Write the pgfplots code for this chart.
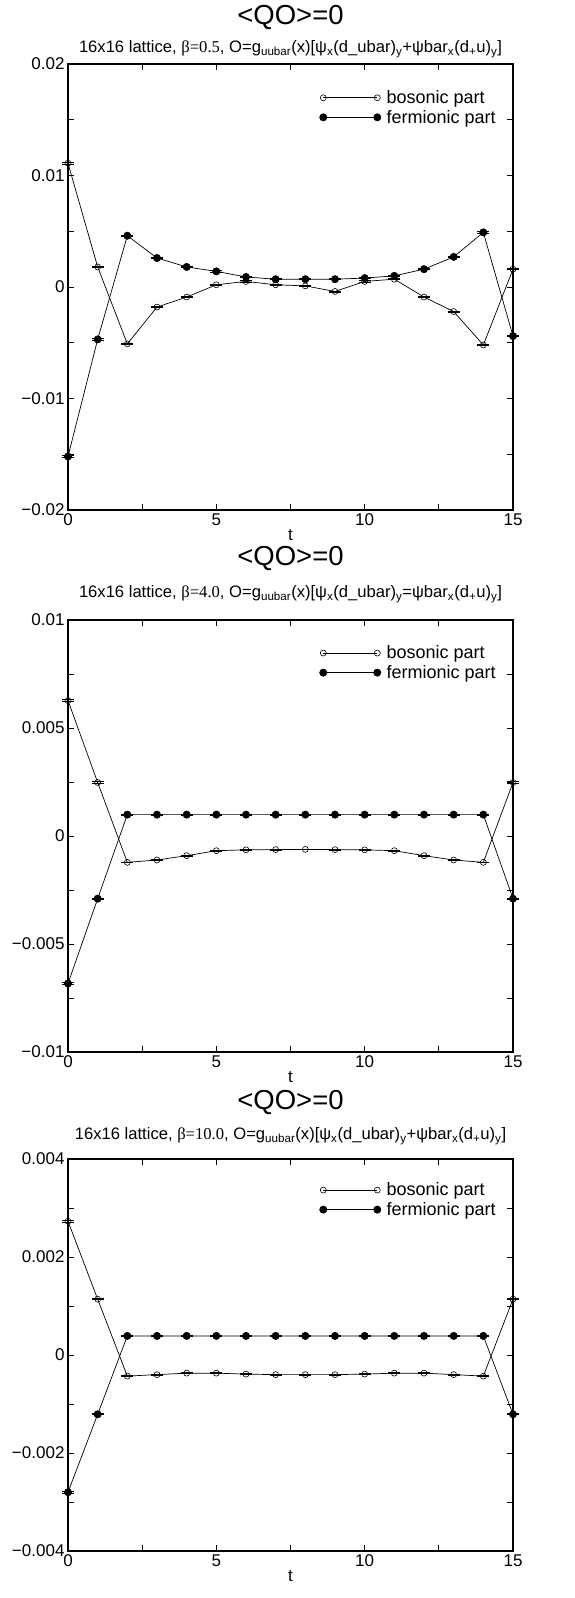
\documentclass[border=0pt]{standalone}
\usepackage{pgfplots}
\pgfplotsset{compat=1.18}
\usepackage{pgfplotstable}
\usepackage{fontspec}
\setmainfont{Liberation Sans}
\newfontfamily\serif{Liberation Serif}

\pgfplotstableread{
t b f e
0 0.0111 -0.0152 0.00012
1 0.0018 -0.0047 0.00006
2 -0.0051 0.0046 0.00006
3 -0.0018 0.0026 0.00005
4 -0.0009 0.0018 0.00005
5 0.0002 0.0014 0.00005
6 0.0005 0.0009 0.00005
7 0.0002 0.0007 0.00005
8 0.0001 0.0007 0.00005
9 -0.0004 0.0007 0.00005
10 0.0005 0.0008 0.00005
11 0.0007 0.0010 0.00005
12 -0.0009 0.0016 0.00005
13 -0.0022 0.0027 0.00005
14 -0.0052 0.0049 0.00006
15 0.0016 -0.0044 0.00006
}\dataA

\pgfplotstableread{
t b f e
0 0.00627 -0.00683 0.00004
1 0.00248 -0.00290 0.00003
2 -0.00122 0.00099 0.00002
3 -0.00111 0.00099 0.00002
4 -0.00091 0.00099 0.00002
5 -0.00068 0.00099 0.00002
6 -0.00064 0.00099 0.00002
7 -0.00063 0.00099 0.00002
8 -0.00062 0.00099 0.00002
9 -0.00063 0.00099 0.00002
10 -0.00064 0.00099 0.00002
11 -0.00068 0.00099 0.00002
12 -0.00091 0.00099 0.00002
13 -0.00111 0.00099 0.00002
14 -0.00122 0.00099 0.00002
15 0.00248 -0.00290 0.00003
}\dataB

\pgfplotstableread{
t b f e
0 0.00273 -0.00280 0.00002
1 0.00114 -0.00121 0.00001
2 -0.00043 0.00039 0.00001
3 -0.00040 0.00039 0.00001
4 -0.00037 0.00039 0.00001
5 -0.00037 0.00039 0.00001
6 -0.00039 0.00039 0.00001
7 -0.00040 0.00039 0.00001
8 -0.00040 0.00039 0.00001
9 -0.00040 0.00039 0.00001
10 -0.00039 0.00039 0.00001
11 -0.00037 0.00039 0.00001
12 -0.00037 0.00039 0.00001
13 -0.00040 0.00039 0.00001
14 -0.00043 0.00039 0.00001
15 0.00114 -0.00121 0.00001
}\dataC

\pgfplotsset{
  qo/.style={
    scale only axis, width=445pt,
    xmin=0, xmax=15,
    xtick={0,5,10,15}, minor xtick={2.5,7.5,12.5},
    xticklabels={0,5,10,15},
    tick align=inside,
    major tick length=6pt, minor tick length=6pt,
    tick style={black, line width=0.7pt},
    axis line style={line width=1.1pt},
    every tick label/.append style={font=\fontsize{17}{19}\selectfont},
    xlabel={t}, xlabel style={font=\fontsize{17}{19}\selectfont, yshift=3pt},
    scaled y ticks=false,
    clip=false,
    legend style={draw=none, fill=none, font=\fontsize{18}{20}\selectfont,
      at={(0.975,0.95)}, anchor=north east, row sep=1pt,
      nodes={inner xsep=3pt}},
    legend cell align=left,
    legend image code/.code={\draw[mark repeat=2,mark phase=1,#1] plot coordinates {(0pt,0pt) (27pt,0pt) (54pt,0pt)}; \path (60pt,0pt);},
  },
  bos/.style={black, line width=0.7pt, mark=o, mark size=3pt, mark options={line width=0.6pt, fill=white, draw=black},
    error bars/.cd, y dir=both, y explicit, error bar style={line width=0.8pt, black},
    error mark options={rotate=90, mark size=6pt, line width=0.8pt, black}},
  fer/.style={black, line width=0.7pt, mark=*, mark size=3.6pt, mark options={fill=black, draw=black},
    error bars/.cd, y dir=both, y explicit, error bar style={line width=0.8pt, black},
    error mark options={rotate=90, mark size=6pt, line width=0.8pt, black}},
}

\begin{document}
\begin{tikzpicture}
\useasboundingbox (0pt,0pt) rectangle (574pt,-1598pt);

% ---------- panel 1 ----------
\node[font=\fontsize{27.5}{29}\selectfont] at (290.5pt,-17pt) {<QO>=0};
\node[font=\fontsize{16.6}{18}\selectfont] at (290.5pt,-49pt) {16x16 lattice, {\serif β=0.5}, O=g\textsubscript{uubar}(x)[ψ\textsubscript{x}(d\_ubar)\textsubscript{y}+ψbar\textsubscript{x}(d\textsubscript{+}u)\textsubscript{y}]};
\begin{axis}[qo, at={(68pt,-510pt)}, anchor=south west, height=446pt,
  ymin=-0.02, ymax=0.02,
  ytick={-0.02,-0.01,0,0.01,0.02}, minor ytick={-0.015,-0.005,0.005,0.015},
  yticklabels={−0.02,−0.01,0,0.01,0.02}]
\addplot[bos] table[x=t,y=b,y error=e] {\dataA};
\addlegendentry{bosonic part}
\addplot[fer] table[x=t,y=f,y error=e] {\dataA};
\addlegendentry{fermionic part}
\end{axis}

% ---------- panel 2 ----------
\node[font=\fontsize{27.5}{29}\selectfont] at (290.5pt,-558pt) {<QO>=0};
\node[font=\fontsize{16.6}{18}\selectfont] at (290.5pt,-594pt) {16x16 lattice, {\serif β=4.0}, O=g\textsubscript{uubar}(x)[ψ\textsubscript{x}(d\_ubar)\textsubscript{y}=ψbar\textsubscript{x}(d\textsubscript{+}u)\textsubscript{y}]};
\begin{axis}[qo, at={(68pt,-1052pt)}, anchor=south west, height=432pt,
  ymin=-0.01, ymax=0.01,
  ytick={-0.01,-0.005,0,0.005,0.01}, minor ytick={-0.0075,-0.0025,0.0025,0.0075},
  yticklabels={−0.01,−0.005,0,0.005,0.01}]
\addplot[bos] table[x=t,y=b,y error=e] {\dataB};
\addlegendentry{bosonic part}
\addplot[fer] table[x=t,y=f,y error=e] {\dataB};
\addlegendentry{fermionic part}
\end{axis}

% ---------- panel 3 ----------
\node[font=\fontsize{27.5}{29}\selectfont] at (290.5pt,-1102pt) {<QO>=0};
\node[font=\fontsize{16.6}{18}\selectfont] at (290.5pt,-1136pt) {16x16 lattice, {\serif β=10.0}, O=g\textsubscript{uubar}(x)[ψ\textsubscript{x}(d\_ubar)\textsubscript{y}+ψbar\textsubscript{x}(d\textsubscript{+}u)\textsubscript{y}]};
\begin{axis}[qo, at={(68pt,-1551pt)}, anchor=south west, height=392pt,
  ymin=-0.004, ymax=0.004,
  ytick={-0.004,-0.002,0,0.002,0.004}, minor ytick={-0.003,-0.001,0.001,0.003},
  yticklabels={−0.004,−0.002,0,0.002,0.004}]
\addplot[bos] table[x=t,y=b,y error=e] {\dataC};
\addlegendentry{bosonic part}
\addplot[fer] table[x=t,y=f,y error=e] {\dataC};
\addlegendentry{fermionic part}
\end{axis}
\end{tikzpicture}
\end{document}
